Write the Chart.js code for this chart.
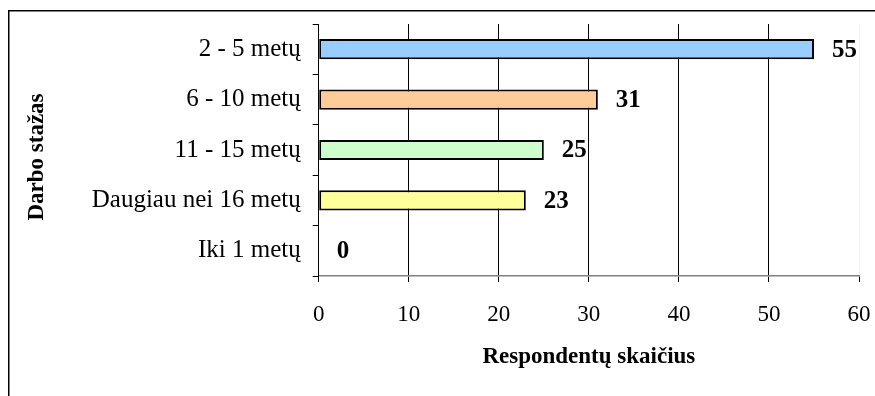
<!DOCTYPE html>
<html>
<head>
<meta charset="utf-8">
<script src="https://cdn.jsdelivr.net/npm/chart.js@4/dist/chart.umd.min.js"></script>
<style>
  html, body { margin: 0; padding: 0; background: #fff; }
  #wrap { position: relative; width: 875px; height: 396px; }
</style>
</head>
<body>
<div id="wrap"><canvas id="c" width="875" height="396"></canvas></div>
<script>
// Work experience groups and respondent counts
const categories = ['2 - 5 metų', '6 - 10 metų', '11 - 15 metų', 'Daugiau nei 16 metų', 'Iki 1 metų'];
const respondents = [55, 31, 25, 23, 0];
const barColors = ['#99CCFF', '#FFCC99', '#CCFFCC', '#FFFF99', '#CCCCFF'];
const xTicks = [0, 10, 20, 30, 40, 50, 60];
const xTitle = 'Respondentų skaičius';
const yTitle = 'Darbo stažas';

const SERIF = '"Liberation Serif", "Times New Roman", serif';

// Outer frame (top and left edges)
const framePlugin = {
  id: 'frame',
  beforeDraw(chart) {
    const ctx = chart.ctx;
    ctx.save();
    ctx.strokeStyle = '#000';
    ctx.lineWidth = 1.5;
    ctx.beginPath();
    ctx.moveTo(8.75, chart.height);
    ctx.lineTo(8.75, 10.75);
    ctx.lineTo(chart.width, 10.75);
    ctx.stroke();
    ctx.restore();
  }
};

// Rotated vertical axis title
const yTitlePlugin = {
  id: 'yTitle',
  afterDraw(chart) {
    const ctx = chart.ctx;
    ctx.save();
    ctx.translate(37, 157);
    ctx.rotate(-Math.PI / 2);
    ctx.font = 'bold 23px ' + SERIF;
    ctx.fillStyle = '#000';
    ctx.textAlign = 'center';
    ctx.textBaseline = 'middle';
    ctx.fillText(yTitle, 0, 0);
    ctx.restore();
  }
};

// Value labels to the right of each bar
const valueLabelPlugin = {
  id: 'valueLabels',
  afterDatasetsDraw(chart) {
    const ctx = chart.ctx;
    const meta = chart.getDatasetMeta(0);
    ctx.save();
    ctx.font = 'bold 25px ' + SERIF;
    ctx.fillStyle = '#000';
    ctx.textAlign = 'left';
    ctx.textBaseline = 'middle';
    meta.data.forEach((bar, i) => {
      ctx.fillText(String(respondents[i]), bar.x + 18, bar.y + 1);
    });
    ctx.restore();
  }
};

new Chart(document.getElementById('c'), {
  type: 'bar',
  data: {
    labels: categories,
    datasets: [{
      data: respondents,
      backgroundColor: barColors,
      borderColor: '#000',
      borderWidth: 2,
      borderSkipped: false,
      categoryPercentage: 1.0,
      barPercentage: 0.4
    }]
  },
  options: {
    indexAxis: 'y',
    responsive: false,
    animation: false,
    devicePixelRatio: 1,
    layout: { padding: { left: 0, top: 24, right: 16, bottom: 0 } },
    plugins: {
      legend: { display: false },
      tooltip: { enabled: false }
    },
    scales: {
      x: {
        min: 0,
        max: 60,
        afterBuildTicks(scale) {
          scale.ticks = xTicks.map(v => ({ value: v }));
        },
        afterFit(scale) {
          scale.height = 120;
          scale.paddingLeft = 0;
          scale.paddingRight = 0;
        },
        grid: {
          color: ctx => (ctx.tick && ctx.tick.value === 60) ? '#f2f2f2' : '#000',
          lineWidth: 1,
          drawTicks: true,
          tickLength: 6,
          tickColor: '#000'
        },
        border: { display: true, color: '#808080', width: 1.5 },
        ticks: {
          color: '#000',
          font: { family: SERIF, size: 23 },
          padding: 19,
          maxRotation: 0
        },
        title: {
          display: true,
          text: xTitle,
          color: '#000',
          font: { family: SERIF, size: 23, weight: 'bold' },
          padding: { top: 0, bottom: 25 }
        }
      },
      y: {
        afterFit(scale) {
          scale.width = 318.7;
          scale.paddingTop = 0;
          scale.paddingBottom = 0;
        },
        grid: {
          display: true,
          drawOnChartArea: false,
          drawTicks: true,
          tickLength: 6,
          offset: true,
          color: '#000',
          tickColor: '#000'
        },
        border: { display: true, color: '#000', width: 1 },
        ticks: {
          color: '#000',
          font: { family: SERIF, size: 25 },
          padding: 12
        }
      }
    }
  },
  plugins: [framePlugin, yTitlePlugin, valueLabelPlugin]
});
</script>
</body>
</html>
